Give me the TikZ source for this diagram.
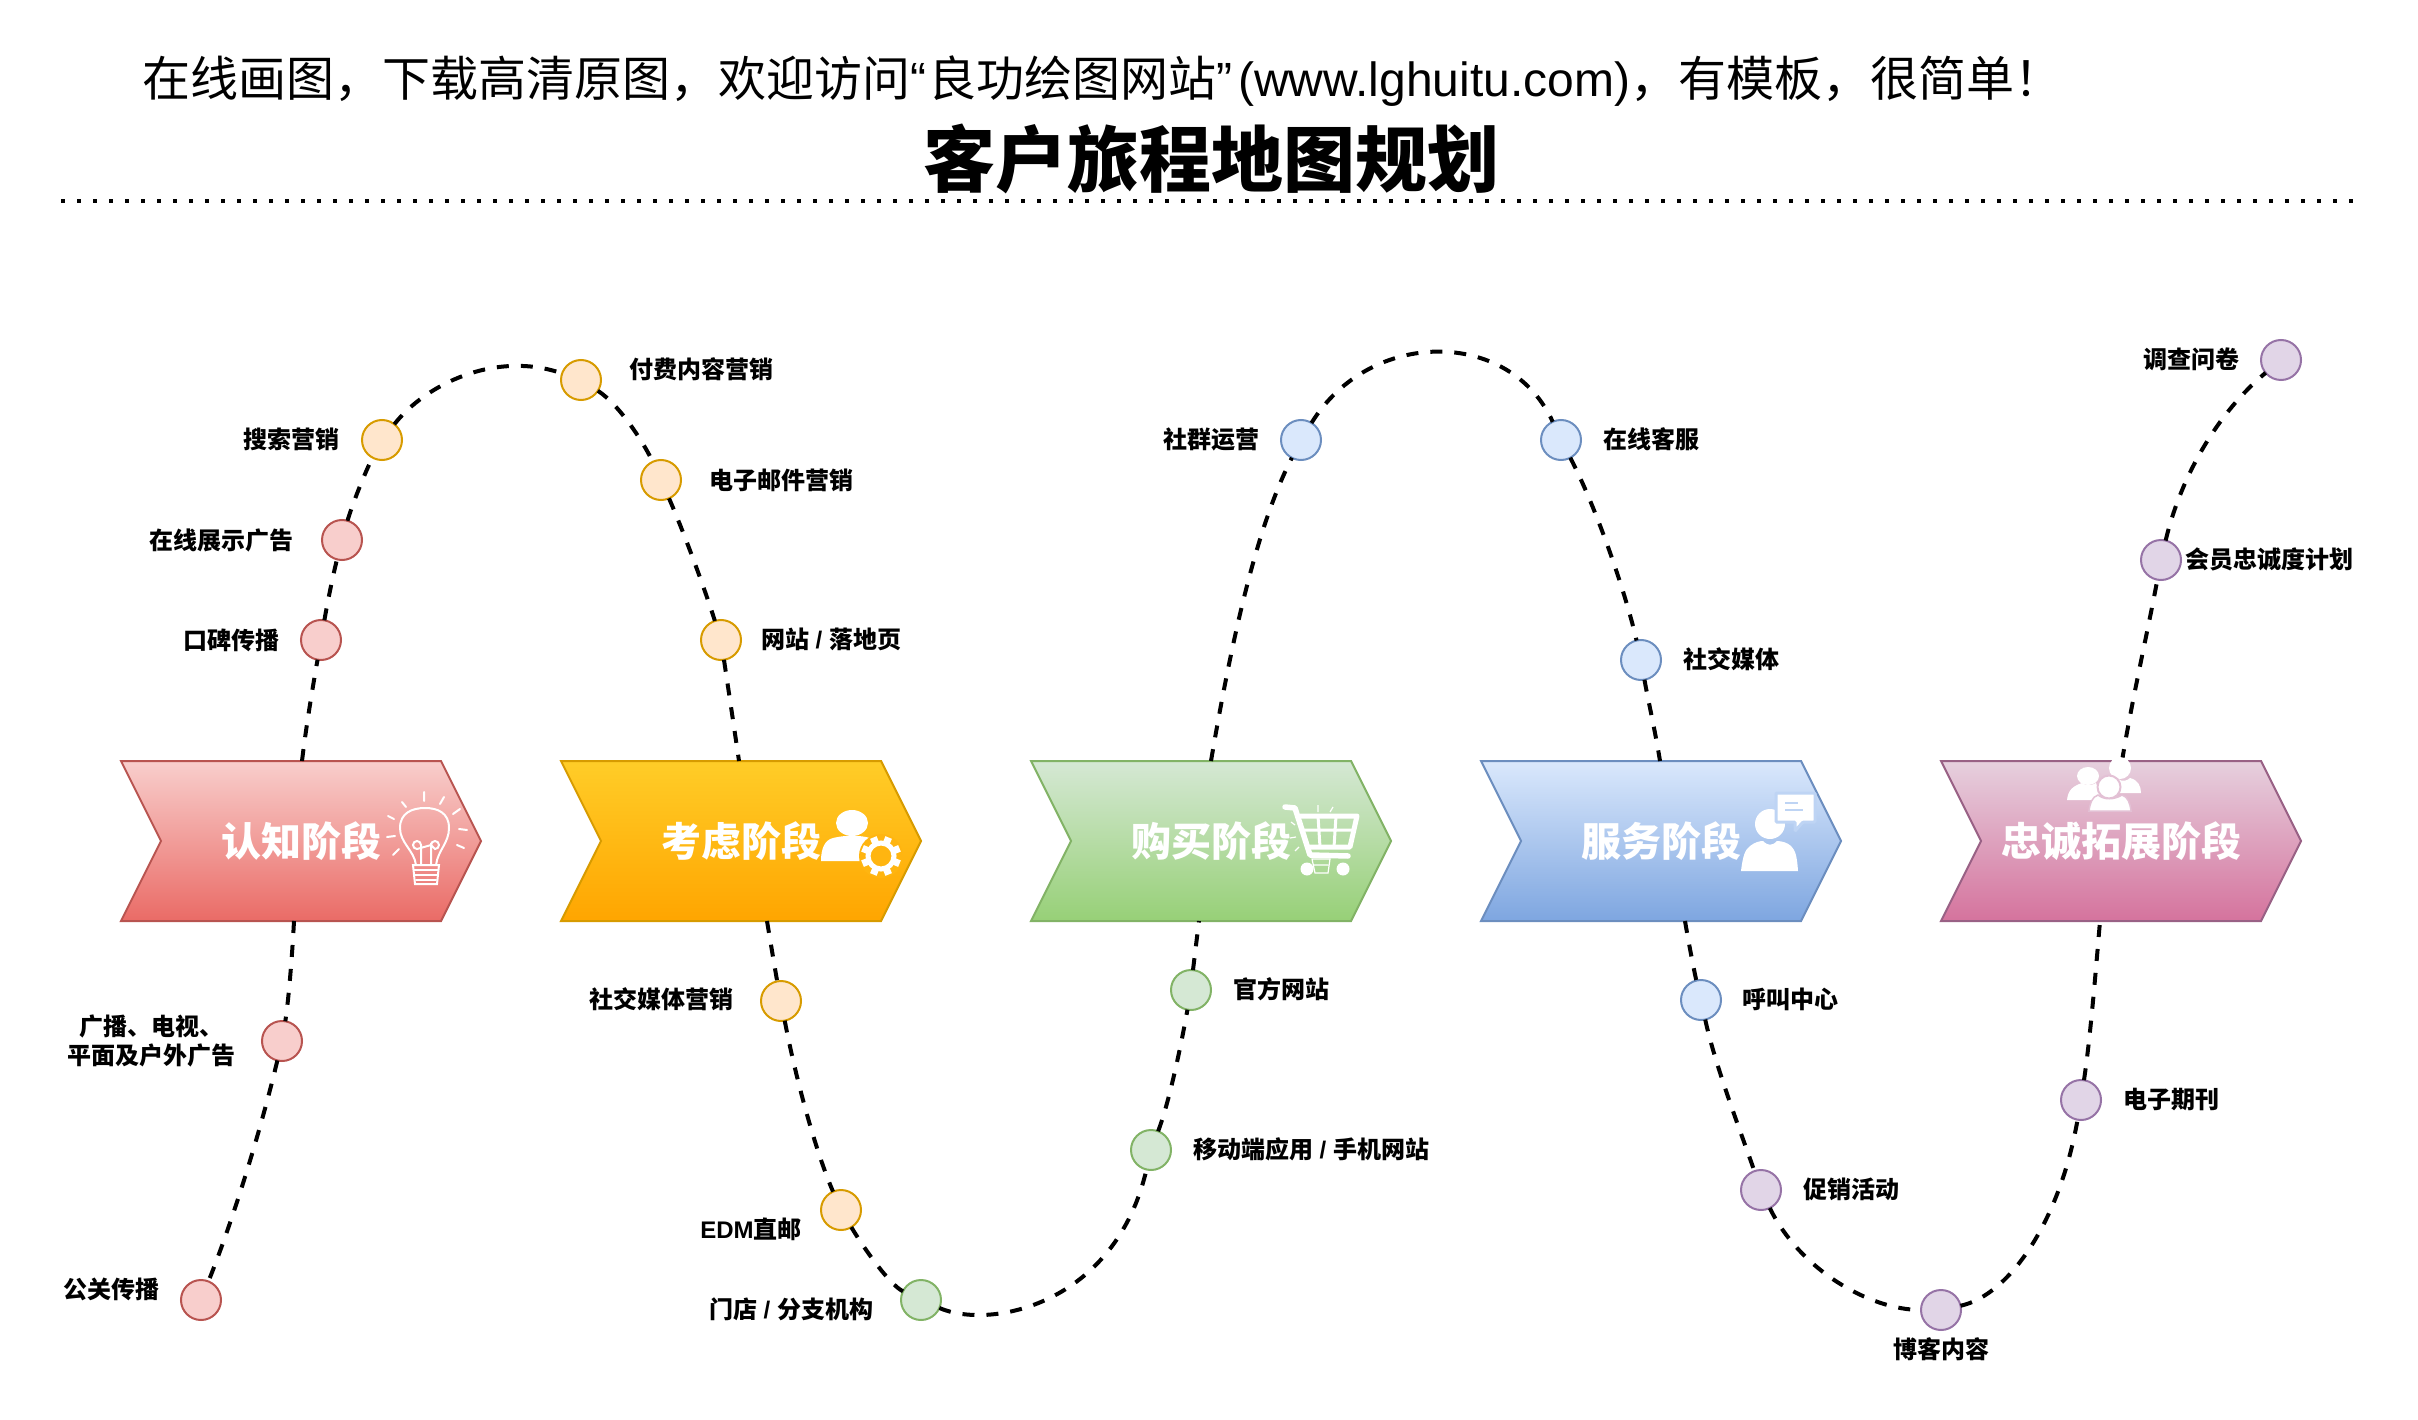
\documentclass[tikz,border=0pt]{standalone}
\usepackage{fontspec}
\setmainfont{Liberation Sans}
\newfontfamily\cjk{Noto Sans CJK SC}
\usetikzlibrary{shapes.symbols}
\newcommand{\lat}[1]{{\rmfamily #1}}
\definecolor{redline}{HTML}{B85450}
\definecolor{redlight}{HTML}{F8CECC}
\definecolor{reddark}{HTML}{EA6B66}
\definecolor{oraline}{HTML}{D79B00}
\definecolor{oralight}{HTML}{FFE6CC}
\definecolor{oratop}{HTML}{FFCD28}
\definecolor{oradark}{HTML}{FFA500}
\definecolor{oramid}{HTML}{FFB510}
\definecolor{greline}{HTML}{82B366}
\definecolor{grelight}{HTML}{D5E8D4}
\definecolor{gredark}{HTML}{97D077}
\definecolor{bluline}{HTML}{6C8EBF}
\definecolor{blulight}{HTML}{DAE8FC}
\definecolor{bludark}{HTML}{7EA6E0}
\definecolor{blumid}{HTML}{BED4F4}
\definecolor{purline}{HTML}{9673A6}
\definecolor{purlight}{HTML}{E1D5E7}
\definecolor{pinline}{HTML}{996185}
\definecolor{pinlight}{HTML}{E6D0DE}
\definecolor{pindark}{HTML}{D5739D}
\definecolor{pinmid}{HTML}{E3C1D5}

\begin{document}
\begin{tikzpicture}
            [
                x=1pt, y=-1pt,
                stage/.style={signal, signal to=east, signal from=west, signal pointer angle=126.87,
                    minimum width=360pt, minimum height=160pt, inner sep=0pt, outer sep=0pt, line width=2pt,
                    text=white, font=\cjk\bfseries\fontsize{40}{48}\selectfont},
                stagered/.style={stage, draw=redline, top color=redlight, bottom color=reddark},
                stageora/.style={stage, draw=oraline, top color=oratop, bottom color=oradark},
                stagegre/.style={stage, draw=greline, top color=grelight, bottom color=gredark},
                stageblu/.style={stage, draw=bluline, top color=blulight, bottom color=bludark},
                stagepin/.style={stage, draw=pinline, top color=pinlight, bottom color=pindark},
                dot/.style={circle, minimum size=40pt, inner sep=0pt, outer sep=0pt, line width=2pt},
                dotred/.style={dot, draw=redline, fill=redlight},
                dotora/.style={dot, draw=oraline, fill=oralight},
                dotgre/.style={dot, draw=greline, fill=grelight},
                dotblu/.style={dot, draw=bluline, fill=blulight},
                dotpur/.style={dot, draw=purline, fill=purlight},
                tag/.style={inner sep=0pt, align=center, font=\cjk\bfseries\fontsize{24}{29}\selectfont},
                trail/.style={line width=4pt, dash pattern=on 12pt off 12pt},
                iconline/.style={draw=white, line width=2pt, line cap=round},
            ]
            \useasboundingbox (0,0) rectangle (2418,1420);
            % cabecalho
            \node[anchor=west, inner sep=0pt, font=\cjk\fontsize{48}{58}\selectfont] (head) at (142,81)
                {在线画图，下载高清原图，欢迎访问\lat{“\kern2pt}良功绘图网站\lat{”\kern6pt(www.lghuitu.com)}，有模板，很简单！};
            \node[inner sep=0pt, font=\cjk\bfseries\fontsize{72}{86}\selectfont] (title) at (1211,159) {客户旅程地图规划};
            \coordinate (ruleA) at (61,201);
            \coordinate (ruleB) at (2358,201);
            \draw[line width=4pt, dash pattern=on 4pt off 12pt] (ruleA) -- (ruleB);
            % etapas
            \node[stagered] (stage1) at (301,841) {认知阶段};
            \node[stageora] (stage2) at (741,841) {考虑阶段};
            \node[stagegre] (stage3) at (1211,841) {购买阶段};
            \node[stageblu] (stage4) at (1661,841) {服务阶段};
            \node[stagepin] (stage5) at (2121,841) {忠诚拓展阶段};
            \coordinate (top1) at (302,761);
            \coordinate (foot1) at (294,921);
            \coordinate (top2) at (739,761);
            \coordinate (foot2) at (767,921);
            \coordinate (top3) at (1211,761);
            \coordinate (foot3) at (1199,921);
            \coordinate (top4) at (1660,761);
            \coordinate (foot4) at (1685,921);
            \coordinate (top5) at (2122,761);
            \coordinate (foot5) at (2100,921);
            % pontos
            \node[dotred] (red1) at (342,540) {};
            \node[dotred] (red2) at (321,640) {};
            \node[dotred] (red3) at (282,1041) {};
            \node[dotred] (red4) at (201,1300) {};
            \node[dotora] (ora1) at (382,440) {};
            \node[dotora] (ora2) at (581,380) {};
            \node[dotora] (ora3) at (661,480) {};
            \node[dotora] (ora4) at (721,640) {};
            \node[dotora] (ora5) at (781,1001) {};
            \node[dotora] (ora6) at (841,1210) {};
            \node[dotgre] (gre1) at (921,1300) {};
            \node[dotgre] (gre2) at (1151,1150) {};
            \node[dotgre] (gre3) at (1191,990) {};
            \node[dotblu] (blu1) at (1301,440) {};
            \node[dotblu] (blu2) at (1561,440) {};
            \node[dotblu] (blu3) at (1641,660) {};
            \node[dotblu] (blu4) at (1701,1000) {};
            \node[dotpur] (pur1) at (1761,1190) {};
            \node[dotpur] (pur2) at (1941,1310) {};
            \node[dotpur] (pur3) at (2081,1100) {};
            \node[dotpur] (pur4) at (2161,560) {};
            \node[dotpur] (pur5) at (2281,360) {};
            % textos
            \node[tag] (tagred1) at (221,540) {在线展示广告};
            \node[tag] (tagred2) at (231,640) {口碑传播};
            \node[tag] (tagred3) at (151,1041) {广播、电视、\\平面及户外广告};
            \node[tag] (tagred4) at (111,1289) {公关传播};
            \node[tag] (tagora1) at (291,439) {搜索营销};
            \node[tag] (tagora2) at (701,369) {付费内容营销};
            \node[tag] (tagora3) at (781,480) {电子邮件营销};
            \node[tag] (tagora4) at (831,639) {网站\lat{ / }落地页};
            \node[tag] (tagora5) at (661,999) {社交媒体营销};
            \node[tag] (tagora6) at (751,1229) {\lat{EDM}直邮};
            \node[tag] (taggre1) at (791,1309) {门店\lat{ / }分支机构};
            \node[tag] (taggre2) at (1311,1149) {移动端应用\lat{ / }手机网站};
            \node[tag] (taggre3) at (1281,989) {官方网站};
            \node[tag] (tagblu1) at (1211,439) {社群运营};
            \node[tag] (tagblu2) at (1651,439) {在线客服};
            \node[tag] (tagblu3) at (1731,659) {社交媒体};
            \node[tag] (tagblu4) at (1790,999) {呼叫中心};
            \node[tag] (tagpur1) at (1851,1189) {促销活动};
            \node[tag] (tagpur2) at (1941,1349) {博客内容};
            \node[tag] (tagpur3) at (2171,1100) {电子期刊};
            \node[tag] (tagpur4) at (2269,559) {会员忠诚度计划};
            \node[tag] (tagpur5) at (2191,359) {调查问卷};
            % caminhos
            \draw[trail] (top1) .. controls (307,720) and (314,680) .. (red2);
            \draw[trail] (red2) .. controls (327,605) and (333,575) .. (red1);
            \draw[trail] (red1) .. controls (352,505) and (366,470) .. (ora1);
            \draw[trail] (ora1) .. controls (425,385) and (495,350) .. (ora2);
            \draw[trail] (ora2) .. controls (620,405) and (645,445) .. (ora3);
            \draw[trail] (ora3) .. controls (685,535) and (705,590) .. (ora4);
            \draw[trail] (ora4) .. controls (727,680) and (733,720) .. (top2);
            \draw[trail] (foot1) .. controls (292,960) and (288,1005) .. (red3);
            \draw[trail] (red3) .. controls (262,1125) and (235,1215) .. (red4);
            \draw[trail] (foot2) .. controls (771,945) and (776,975) .. (ora5);
            \draw[trail] (ora5) .. controls (795,1075) and (815,1150) .. (ora6);
            \draw[trail] (ora6) .. controls (865,1250) and (890,1285) .. (gre1);
            \draw[trail] (gre1) .. controls (990,1330) and (1115,1305) .. (gre2);
            \draw[trail] (gre2) .. controls (1170,1100) and (1182,1040) .. (gre3);
            \draw[trail] (gre3) .. controls (1193,970) and (1196,945) .. (foot3);
            \draw[trail] (top3) .. controls (1235,620) and (1260,520) .. (blu1);
            \draw[trail] (blu1) .. controls (1370,328) and (1510,328) .. (blu2);
            \draw[trail] (blu2) .. controls (1595,505) and (1625,590) .. (blu3);
            \draw[trail] (blu3) .. controls (1648,700) and (1655,730) .. (top4);
            \draw[trail] (foot4) .. controls (1689,945) and (1695,975) .. (blu4);
            \draw[trail] (blu4) .. controls (1715,1065) and (1740,1130) .. (pur1);
            \draw[trail] (pur1) .. controls (1800,1270) and (1870,1310) .. (pur2);
            \draw[trail] (pur2) .. controls (2010,1295) and (2060,1220) .. (pur3);
            \draw[trail] (pur3) .. controls (2090,1040) and (2095,980) .. (foot5);
            \draw[trail] (top5) .. controls (2132,700) and (2148,630) .. (pur4);
            \draw[trail] (pur4) .. controls (2180,480) and (2215,415) .. (pur5);
            % lampada
            \draw[iconline] (416,865) .. controls (414,850) and (400,843) .. (400,828)
                .. controls (400,813) and (412,808) .. (425,808)
                .. controls (438,808) and (449,813) .. (449,828)
                .. controls (449,843) and (438,850) .. (436,865);
            \draw[iconline] (413,865) -- (439,865) -- (437,884) -- (415,884) -- cycle;
            \draw[iconline] (414,870) -- (438,870) (415,875) -- (437,875) (416,880) -- (436,880);
            \draw[iconline] (421,865) -- (421,845) arc (0:-270:4) -- (431,845) arc (-180:90:4) -- (431,845) -- (431,865);
            \draw[iconline] (424,792) -- (424,801) (402,802) -- (406,807) (388,816) -- (394,819)
                (387,837) -- (395,836) (393,855) -- (399,849) (444,797) -- (440,804)
                (460,809) -- (453,814) (459,829) -- (467,830) (457,845) -- (464,848);
            % pessoa e engrenagem
            \fill[white] (852,823) ellipse (16 and 13);
            \fill[white] (821,861) .. controls (821,848) and (825,840) .. (833,838)
                .. controls (845,835) and (860,835) .. (870,838) -- (872,861) -- cycle;
            \fill[oramid] (881,856) circle (22);
            \draw[white, line width=5pt] (881,856) circle (13);
            \foreach \ang in {0,45,...,315}
                \fill[white, shift={(881,856)}, rotate=\ang+22.5] (-3.5,-20) rectangle (3.5,-14);
            % carrinho
            \draw[white, line width=5.5pt, line cap=round, line join=round] (1285,807) -- (1295,808) -- (1310,855) -- (1348,856);
            \draw[white, line width=5pt, line join=round] (1300,816) -- (1357,816) -- (1350,847) -- (1307,847);
            \draw[white, line width=3pt] (1318,816) -- (1320,847) (1336,816) -- (1334,847) (1303,830) -- (1354,830);
            \fill[white] (1307,869) circle (6.5) (1343,869) circle (6.5);
            \draw[white, line width=1.2pt] (1318,805) -- (1318,812) (1333,807) -- (1330,812) (1291,822) -- (1295,825)
                (1290,838) -- (1296,837) (1295,851) -- (1299,847) (1312,859) -- (1330,859) -- (1328,873) -- (1315,873) -- cycle
                (1314,865) -- (1328,865);
            % pessoa e balao
            \fill[white] (1770,824) circle (15);
            \fill[white] (1741,871) .. controls (1743,855) and (1745,850) .. (1750,846)
                .. controls (1755,842) and (1760,841) .. (1763,841) .. controls (1768,846) and (1772,846) .. (1777,841)
                .. controls (1782,841) and (1788,843) .. (1791,846) .. controls (1795,850) and (1797,855) .. (1798,871) -- cycle;
            \draw[blumid, line width=3pt, fill=white, rounded corners=1pt] (1776,793) -- (1815,793) -- (1815,822) -- (1803,822) -- (1795,831) -- (1795,822) -- (1776,822) -- cycle;
            \draw[blumid, line width=2pt] (1785,803) -- (1798,803) (1785,810) -- (1803,810);
            % tres pessoas
            \fill[white] (2088,776) ellipse (11 and 9);
            \fill[white] (2067,800) .. controls (2068,790) and (2073,786) .. (2082,783) .. controls (2086,786) and (2091,786) .. (2096,783) -- (2102,800) -- cycle;
            \fill[white] (2120,768) ellipse (11 and 11);
            \fill[white] (2110,793) -- (2118,779) .. controls (2122,782) and (2127,781) .. (2130,778) .. controls (2138,780) and (2141,786) .. (2141,793) -- cycle;
            \draw[pinmid, line width=2pt, fill=white] (2109,787) circle (11.5);
            \filldraw[white, draw=pinmid, line width=1.5pt] (2089,811) .. controls (2090,803) and (2092,797) .. (2098,795) .. controls (2104,800) and (2114,800) .. (2122,795) .. controls (2128,797) and (2130,803) .. (2131,811) -- cycle;
        \end{tikzpicture}
\end{document}
